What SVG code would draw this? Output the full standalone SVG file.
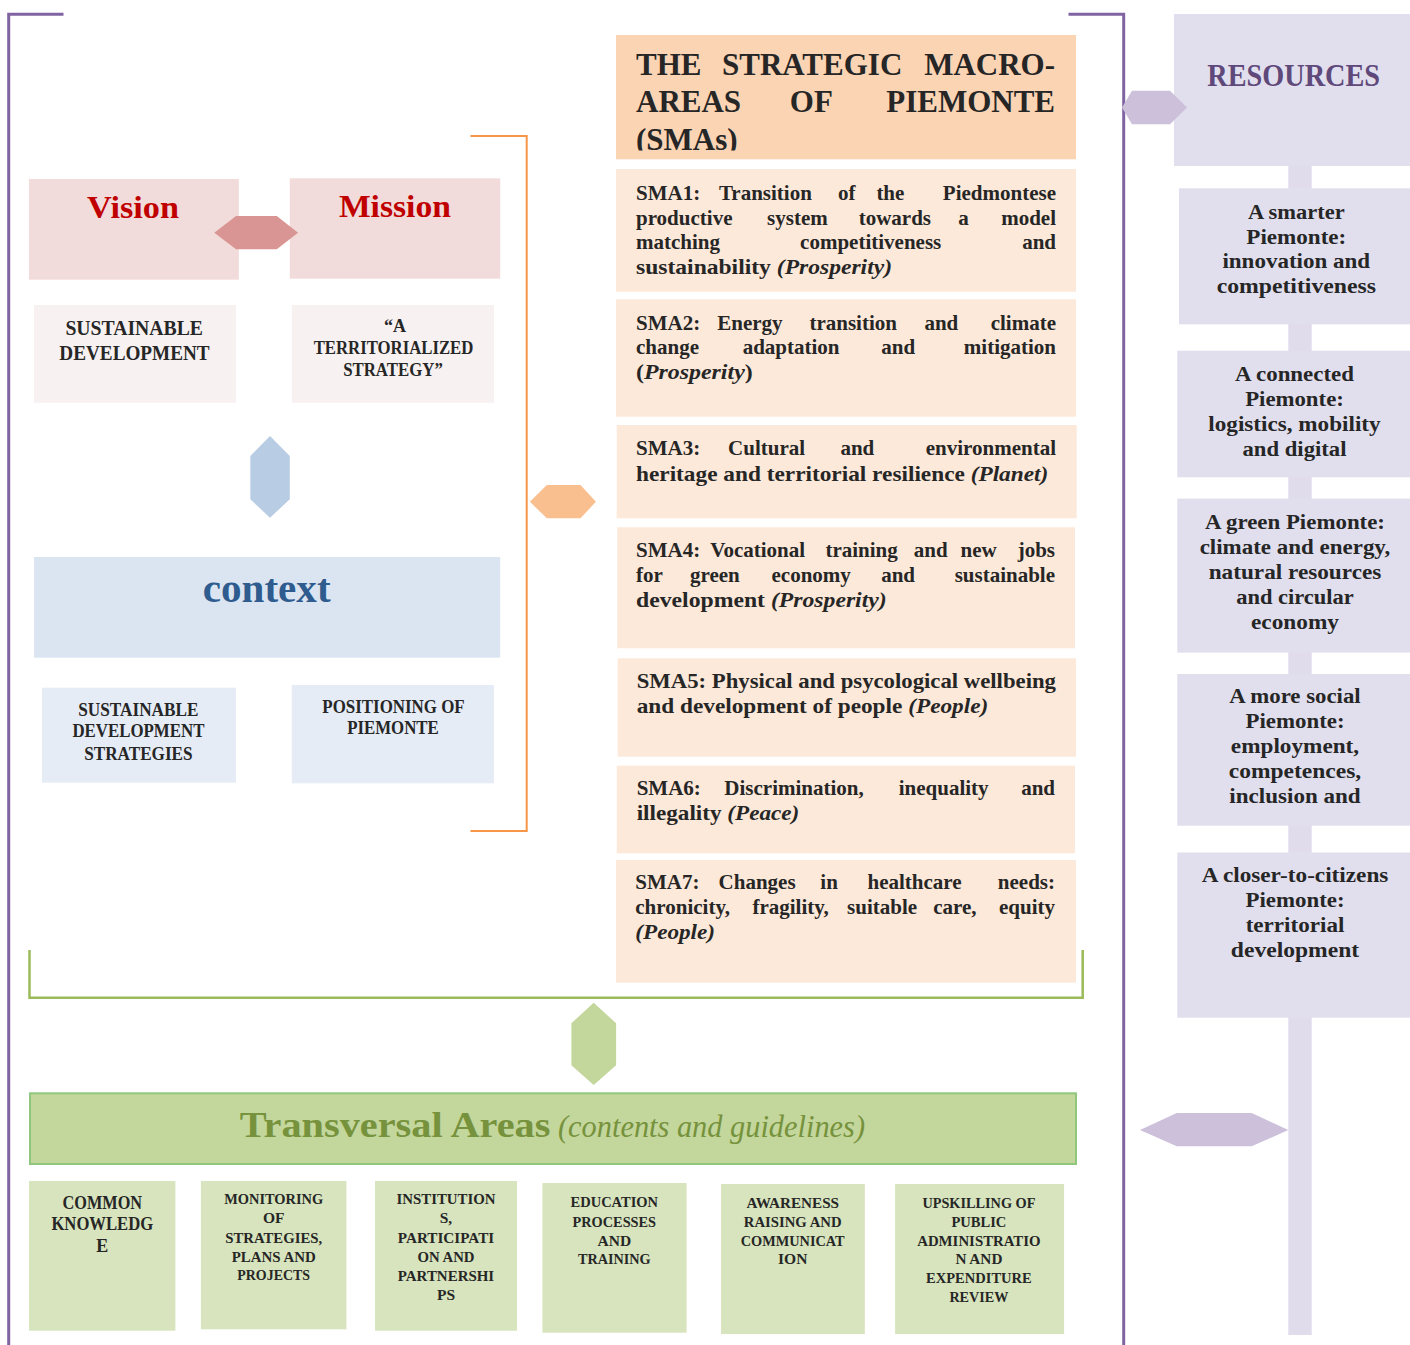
<svg xmlns="http://www.w3.org/2000/svg" width="1410" height="1345" viewBox="0 0 1410 1345">
<style>
.t{font-family:"Liberation Serif","Times New Roman",serif;font-weight:bold;fill:#262626}
.c{text-anchor:middle}
.e{text-anchor:end}
.i{font-style:italic}
.sma{font-size:21px}
.rs{font-size:20px}
.bt{font-size:15.5px}
.ln{fill:none}
</style>
<defs>
<clipPath id="hdrclip"><rect x="616" y="35" width="460" height="115.5"/></clipPath>
</defs>
<rect width="1410" height="1345" fill="#ffffff"/>

<g id="resource-spine">
<rect x="1288.3" y="160" width="23.4" height="1175" fill="#e0dcec"/>
</g>

<g id="vision">
<rect x="28.9" y="179" width="210" height="100.7" fill="#f2dcdb"/>
<text class="t c" x="133" y="218.3" font-size="31" style="fill:#c00000" textLength="92" lengthAdjust="spacingAndGlyphs">Vision</text>
</g>
<g id="mission">
<rect x="289.8" y="178.3" width="210.4" height="100.4" fill="#f2dcdb"/>
<text class="t c" x="394.9" y="216.7" font-size="31" style="fill:#c00000" textLength="112" lengthAdjust="spacingAndGlyphs">Mission</text>
</g>
<g id="sustainable-development">
<rect x="34" y="305" width="202" height="97.7" fill="#f7f1f1"/>
<text class="t c" font-size="20" x="134.2" y="335" textLength="137.6" lengthAdjust="spacingAndGlyphs">SUSTAINABLE</text>
<text class="t c" font-size="20" x="134.5" y="360" textLength="150.3" lengthAdjust="spacingAndGlyphs">DEVELOPMENT</text>
</g>
<g id="territorialized-strategy">
<rect x="291.8" y="305" width="202.1" height="97.7" fill="#f7f1f1"/>
<text class="t c" font-size="18" x="395" y="331.7">“A</text>
<text class="t c" font-size="18" x="393.5" y="354" textLength="159.7" lengthAdjust="spacingAndGlyphs">TERRITORIALIZED</text>
<text class="t c" font-size="18" x="393" y="376" textLength="99.7" lengthAdjust="spacingAndGlyphs">STRATEGY”</text>
</g>
<g id="context">
<rect x="34" y="557" width="466.2" height="100.7" fill="#dbe5f1"/>
<text class="t c" x="266.7" y="601.7" font-size="40" style="fill:#2f5c8f" textLength="127.8" lengthAdjust="spacingAndGlyphs">context</text>
</g>
<g id="sd-strategies">
<rect x="41.9" y="687.7" width="194.1" height="95" fill="#e5ecf6"/>
<text class="t c" font-size="18" x="138.4" y="716" textLength="120.2" lengthAdjust="spacingAndGlyphs">SUSTAINABLE</text>
<text class="t c" font-size="18" x="138.4" y="737.3" textLength="132" lengthAdjust="spacingAndGlyphs">DEVELOPMENT</text>
<text class="t c" font-size="18" x="138.4" y="760" textLength="108.4" lengthAdjust="spacingAndGlyphs">STRATEGIES</text>
</g>
<g id="positioning">
<rect x="291.8" y="685" width="202.1" height="98.3" fill="#e5ecf6"/>
<text class="t c" font-size="18" x="393.5" y="713.3" textLength="142.3" lengthAdjust="spacingAndGlyphs">POSITIONING OF</text>
<text class="t c" font-size="18" x="393" y="734" textLength="91.7" lengthAdjust="spacingAndGlyphs">PIEMONTE</text>
</g>

<g id="sma-header">
<rect x="616" y="35" width="460" height="124.3" fill="#fbd4b4"/>
<g clip-path="url(#hdrclip)">
<text class="t" font-size="31" y="75"><tspan x="636">THE</tspan> <tspan x="816" class="c">STRATEGIC</tspan> <tspan x="1055" class="e">MACRO-</tspan></text>
<text class="t" font-size="31" y="111.7"><tspan x="636">AREAS</tspan> <tspan x="814.7" class="c">OF</tspan> <tspan x="1055" class="e">PIEMONTE</tspan></text>
<text class="t" font-size="31" x="636" y="149.5">(SMAs)</text>
</g>
</g>
<g id="sma1">
<rect x="616" y="169" width="460" height="122.7" fill="#fde9d9"/>
<text class="t sma" y="200"><tspan x="636">SMA1:</tspan> <tspan x="768" class="c">Transition</tspan> <tspan x="849.3" class="c">of</tspan> <tspan x="893" class="c">the</tspan> <tspan x="1056" class="e">Piedmontese</tspan></text>
<text class="t sma" y="224.7"><tspan x="636">productive</tspan> <tspan x="800" class="c">system</tspan> <tspan x="897.5" class="c">towards</tspan> <tspan x="966" class="c">a</tspan> <tspan x="1056" class="e">model</tspan></text>
<text class="t sma" y="249.3"><tspan x="636">matching</tspan> <tspan x="873.3" class="c">competitiveness</tspan> <tspan x="1056" class="e">and</tspan></text>
<text class="t sma" x="636" y="274" textLength="256" lengthAdjust="spacingAndGlyphs">sustainability <tspan class="i">(Prosperity)</tspan></text>
</g>
<g id="sma2">
<rect x="616" y="299.3" width="460" height="117.4" fill="#fde9d9"/>
<text class="t sma" y="330"><tspan x="636">SMA2:</tspan> <tspan x="752.5" class="c">Energy</tspan> <tspan x="855.8" class="c">transition</tspan> <tspan x="944" class="c">and</tspan> <tspan x="1056" class="e">climate</tspan></text>
<text class="t sma" y="354.3"><tspan x="636">change</tspan> <tspan x="793.7" class="c">adaptation</tspan> <tspan x="900.8" class="c">and</tspan> <tspan x="1056" class="e">mitigation</tspan></text>
<text class="t sma" x="636" y="379" textLength="116.7" lengthAdjust="spacingAndGlyphs">(<tspan class="i">Prosperity</tspan>)</text>
</g>
<g id="sma3">
<rect x="616.7" y="425" width="460" height="93.3" fill="#fde9d9"/>
<text class="t sma" y="455"><tspan x="636">SMA3:</tspan> <tspan x="769.2" class="c">Cultural</tspan> <tspan x="860" class="c">and</tspan> <tspan x="1056" class="e">environmental</tspan></text>
<text class="t sma" x="636" y="480.7" textLength="412.3" lengthAdjust="spacingAndGlyphs">heritage and territorial resilience <tspan class="i">(Planet)</tspan></text>
</g>
<g id="sma4">
<rect x="617.3" y="527.3" width="457.7" height="121" fill="#fde9d9"/>
<text class="t sma" y="556.7"><tspan x="636">SMA4:</tspan> <tspan x="760.3" class="c">Vocational</tspan> <tspan x="864.2" class="c">training</tspan> <tspan x="933.3" class="c">and</tspan> <tspan x="981.3" class="c">new</tspan> <tspan x="1055" class="e">jobs</tspan></text>
<text class="t sma" y="581.7"><tspan x="636">for</tspan> <tspan x="717.5" class="c">green</tspan> <tspan x="813.8" class="c">economy</tspan> <tspan x="900.7" class="c">and</tspan> <tspan x="1055" class="e">sustainable</tspan></text>
<text class="t sma" x="636" y="606.7" textLength="250.7" lengthAdjust="spacingAndGlyphs">development <tspan class="i">(Prosperity)</tspan></text>
</g>
<g id="sma5">
<rect x="617.7" y="658.3" width="458.3" height="98.4" fill="#fde9d9"/>
<text class="t sma" x="636.7" y="688.3" textLength="419.3" lengthAdjust="spacingAndGlyphs">SMA5: Physical and psycological wellbeing</text>
<text class="t sma" x="636.7" y="712.7" textLength="351.6" lengthAdjust="spacingAndGlyphs">and development of people <tspan class="i">(People)</tspan></text>
</g>
<g id="sma6">
<rect x="616.7" y="765.7" width="458.3" height="87.6" fill="#fde9d9"/>
<text class="t sma" y="795"><tspan x="636.7">SMA6:</tspan> <tspan x="796.7" class="c">Discrimination,</tspan> <tspan x="946.3" class="c">inequality</tspan> <tspan x="1055" class="e">and</tspan></text>
<text class="t sma" x="636.7" y="820" textLength="162.6" lengthAdjust="spacingAndGlyphs">illegality <tspan class="i">(Peace)</tspan></text>
</g>
<g id="sma7">
<rect x="616" y="860" width="460" height="122.7" fill="#fde9d9"/>
<text class="t sma" y="889.3"><tspan x="635.3">SMA7:</tspan> <tspan x="759.7" class="c">Changes</tspan> <tspan x="831.7" class="c">in</tspan> <tspan x="917.2" class="c">healthcare</tspan> <tspan x="1055" class="e">needs:</tspan></text>
<text class="t sma" y="914"><tspan x="635.3">chronicity,</tspan> <tspan x="793.3" class="c">fragility,</tspan> <tspan x="884.7" class="c">suitable</tspan> <tspan x="957.5" class="c">care,</tspan> <tspan x="1055" class="e">equity</tspan></text>
<text class="t sma i" x="635.3" y="939" textLength="79.7" lengthAdjust="spacingAndGlyphs">(People)</text>
</g>

<g id="resources">
<rect x="1174" y="14" width="236" height="152" fill="#e1dfee"/>
<text class="t c" x="1293.7" y="86" font-size="32" style="fill:#5f497a" textLength="172.7" lengthAdjust="spacingAndGlyphs">RESOURCES</text>
</g>
<g id="res-smarter">
<rect x="1179" y="188.3" width="231" height="136" fill="#e1dfee"/>
<text class="t c rs" x="1296.3" y="219" textLength="96.7" lengthAdjust="spacingAndGlyphs">A smarter</text>
<text class="t c rs" x="1296.3" y="244" textLength="100" lengthAdjust="spacingAndGlyphs">Piemonte:</text>
<text class="t c rs" x="1296.3" y="268.3" textLength="147.7" lengthAdjust="spacingAndGlyphs">innovation and</text>
<text class="t c rs" x="1296.3" y="293.3" textLength="159.3" lengthAdjust="spacingAndGlyphs">competitiveness</text>
</g>
<g id="res-connected">
<rect x="1177.3" y="350.7" width="232.7" height="126.6" fill="#e1dfee"/>
<text class="t c rs" x="1294.5" y="381" textLength="119" lengthAdjust="spacingAndGlyphs">A connected</text>
<text class="t c rs" x="1294.5" y="406" textLength="98.7" lengthAdjust="spacingAndGlyphs">Piemonte:</text>
<text class="t c rs" x="1294.5" y="430.7" textLength="172.3" lengthAdjust="spacingAndGlyphs">logistics, mobility</text>
<text class="t c rs" x="1294.5" y="455.7" textLength="104" lengthAdjust="spacingAndGlyphs">and digital</text>
</g>
<g id="res-green">
<rect x="1177.3" y="498.6" width="232.7" height="154" fill="#e1dfee"/>
<text class="t c rs" x="1295" y="529.3" textLength="180" lengthAdjust="spacingAndGlyphs">A green Piemonte:</text>
<text class="t c rs" x="1295" y="554.3" textLength="190.7" lengthAdjust="spacingAndGlyphs">climate and energy,</text>
<text class="t c rs" x="1295" y="579.3" textLength="172.7" lengthAdjust="spacingAndGlyphs">natural resources</text>
<text class="t c rs" x="1295" y="604.3" textLength="117.7" lengthAdjust="spacingAndGlyphs">and circular</text>
<text class="t c rs" x="1295" y="629.3" textLength="88" lengthAdjust="spacingAndGlyphs">economy</text>
</g>
<g id="res-social">
<rect x="1177.3" y="674" width="232.7" height="151.7" fill="#e1dfee"/>
<text class="t c rs" x="1295" y="703.2" textLength="131.3" lengthAdjust="spacingAndGlyphs">A more social</text>
<text class="t c rs" x="1295" y="728.2" textLength="99" lengthAdjust="spacingAndGlyphs">Piemonte:</text>
<text class="t c rs" x="1295" y="753.2" textLength="128.3" lengthAdjust="spacingAndGlyphs">employment,</text>
<text class="t c rs" x="1295" y="778.2" textLength="132.3" lengthAdjust="spacingAndGlyphs">competences,</text>
<text class="t c rs" x="1295" y="803.2" textLength="131.3" lengthAdjust="spacingAndGlyphs">inclusion and</text>
</g>
<g id="res-closer">
<rect x="1177.3" y="852.5" width="232.7" height="165.2" fill="#e1dfee"/>
<text class="t c rs" x="1295" y="881.8" textLength="186.7" lengthAdjust="spacingAndGlyphs">A closer-to-citizens</text>
<text class="t c rs" x="1295" y="906.8" textLength="99" lengthAdjust="spacingAndGlyphs">Piemonte:</text>
<text class="t c rs" x="1295" y="931.8" textLength="98.7" lengthAdjust="spacingAndGlyphs">territorial</text>
<text class="t c rs" x="1295" y="956.8" textLength="128.3" lengthAdjust="spacingAndGlyphs">development</text>
</g>

<g id="transversal-areas">
<rect x="30" y="1093.3" width="1046" height="70.7" fill="#c3d69b" stroke="#8fc77e" stroke-width="2"/>
<text class="t" x="239.7" y="1137.3" font-size="36" style="fill:#76923c" textLength="310.7" lengthAdjust="spacingAndGlyphs">Transversal Areas</text>
<text class="t i" x="558" y="1137.3" font-size="32" style="fill:#76923c;font-weight:normal" textLength="307" lengthAdjust="spacingAndGlyphs">(contents and guidelines)</text>
</g>
<g id="ta-common-knowledge">
<rect x="29" y="1181" width="146.4" height="149.7" fill="#d7e4bd"/>
<text class="t c" font-size="18" x="102.3" y="1209.3" textLength="79.5" lengthAdjust="spacingAndGlyphs">COMMON</text>
<text class="t c" font-size="18" x="102.3" y="1230" textLength="101.8" lengthAdjust="spacingAndGlyphs">KNOWLEDG</text>
<text class="t c" font-size="18" x="102.3" y="1251.7">E</text>
</g>
<g id="ta-monitoring">
<rect x="200.9" y="1181" width="145.5" height="148.3" fill="#d7e4bd"/>
<text class="t c bt" x="273.7" y="1204" textLength="99" lengthAdjust="spacingAndGlyphs">MONITORING</text>
<text class="t c bt" x="273.7" y="1223.3">OF</text>
<text class="t c bt" x="273.7" y="1242.7" textLength="97" lengthAdjust="spacingAndGlyphs">STRATEGIES,</text>
<text class="t c bt" x="273.7" y="1261.7" textLength="84" lengthAdjust="spacingAndGlyphs">PLANS AND</text>
<text class="t c bt" x="273.7" y="1280" textLength="72.8" lengthAdjust="spacingAndGlyphs">PROJECTS</text>
</g>
<g id="ta-institutions">
<rect x="375" y="1181" width="142" height="149.7" fill="#d7e4bd"/>
<text class="t c bt" x="446" y="1204" textLength="99" lengthAdjust="spacingAndGlyphs">INSTITUTION</text>
<text class="t c bt" x="446" y="1223.3">S,</text>
<text class="t c bt" x="446" y="1242.7" textLength="96.4" lengthAdjust="spacingAndGlyphs">PARTICIPATI</text>
<text class="t c bt" x="446" y="1261.7" textLength="57" lengthAdjust="spacingAndGlyphs">ON AND</text>
<text class="t c bt" x="446" y="1280.7" textLength="96.4" lengthAdjust="spacingAndGlyphs">PARTNERSHI</text>
<text class="t c bt" x="446" y="1300">PS</text>
</g>
<g id="ta-education">
<rect x="542.4" y="1183" width="144.2" height="149.7" fill="#d7e4bd"/>
<text class="t c bt" x="614.3" y="1207.3" textLength="87.5" lengthAdjust="spacingAndGlyphs">EDUCATION</text>
<text class="t c bt" x="614.3" y="1226.7" textLength="83.5" lengthAdjust="spacingAndGlyphs">PROCESSES</text>
<text class="t c bt" x="614.3" y="1245.7">AND</text>
<text class="t c bt" x="614.3" y="1264" textLength="72.8" lengthAdjust="spacingAndGlyphs">TRAINING</text>
</g>
<g id="ta-awareness">
<rect x="721" y="1184" width="143.8" height="150" fill="#d7e4bd"/>
<text class="t c bt" x="792.7" y="1208.3" textLength="92.6" lengthAdjust="spacingAndGlyphs">AWARENESS</text>
<text class="t c bt" x="792.7" y="1227.3" textLength="97.7" lengthAdjust="spacingAndGlyphs">RAISING AND</text>
<text class="t c bt" x="792.7" y="1245.7" textLength="103.8" lengthAdjust="spacingAndGlyphs">COMMUNICAT</text>
<text class="t c bt" x="792.7" y="1264.3">ION</text>
</g>
<g id="ta-upskilling">
<rect x="895.1" y="1184" width="169" height="150" fill="#d7e4bd"/>
<text class="t c bt" x="978.9" y="1208.3" textLength="113" lengthAdjust="spacingAndGlyphs">UPSKILLING OF</text>
<text class="t c bt" x="978.9" y="1227.3" textLength="55" lengthAdjust="spacingAndGlyphs">PUBLIC</text>
<text class="t c bt" x="978.9" y="1245.7" textLength="123.4" lengthAdjust="spacingAndGlyphs">ADMINISTRATIO</text>
<text class="t c bt" x="978.9" y="1264.3" textLength="47" lengthAdjust="spacingAndGlyphs">N AND</text>
<text class="t c bt" x="978.9" y="1283.3" textLength="105.7" lengthAdjust="spacingAndGlyphs">EXPENDITURE</text>
<text class="t c bt" x="978.9" y="1302.3" textLength="59" lengthAdjust="spacingAndGlyphs">REVIEW</text>
</g>

<g id="connectors">
<polyline class="ln" points="63.5,14.3 8.7,14.3 8.7,1345" stroke="#8064a2" stroke-width="3"/>
<polyline class="ln" points="1068.5,14.3 1123.7,14.3 1123.7,1345" stroke="#8064a2" stroke-width="3"/>
<polyline class="ln" points="470.5,136 526.7,136 526.7,831 470.5,831" stroke="#f79646" stroke-width="2"/>
<polyline class="ln" points="29.5,950 29.5,997.7 1082.7,997.7 1082.7,950" stroke="#9bbb59" stroke-width="2.5"/>
<polygon points="214.3,232.7 236,216 276.8,216 298.1,232.7 276.8,249.3 236,249.3" fill="#d99594"/>
<polygon points="270,436 289.8,456 289.8,499.3 270,517.7 250.3,499.3 250.3,456" fill="#b8cce4"/>
<polygon points="529.9,501.7 546.8,485 580.5,485 595.9,501.7 580.5,518.3 546.8,518.3" fill="#fabf8f"/>
<polygon points="593.7,1002.7 616.1,1023.3 616.1,1065.3 593.7,1085 571.4,1065.3 571.4,1023.3" fill="#c3d69b"/>
<polygon points="1122,107.5 1132,90.7 1170,90.7 1187,107.5 1170,124.3 1132,124.3" fill="#ccc0da"/>
<polygon points="1140,1130 1176.7,1113 1251.7,1113 1288.3,1130 1251.7,1146.3 1176.7,1146.3" fill="#ccc0da"/>
</g>
</svg>
